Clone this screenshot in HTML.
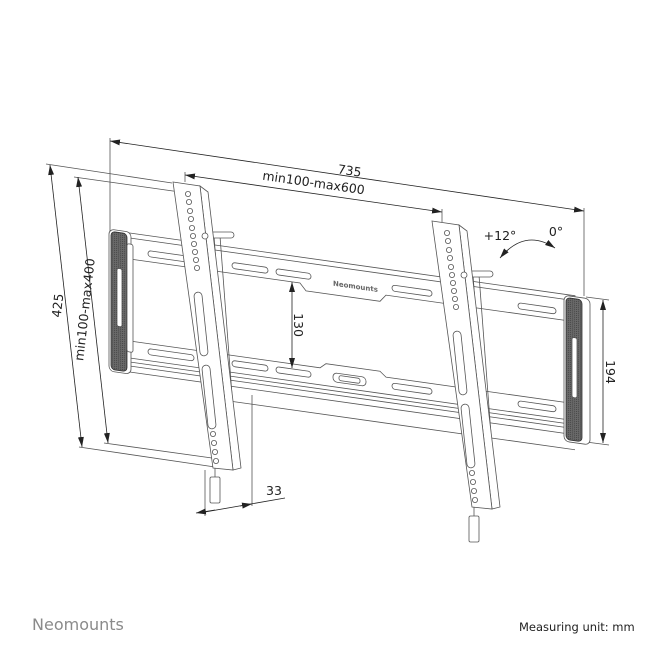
<!DOCTYPE html>
<html><head><meta charset="utf-8"><style>
html,body{margin:0;padding:0;background:#fff}
svg{display:block}
text{font-family:"DejaVu Sans","Liberation Sans",sans-serif;fill:#222}
</style></head><body>
<svg width="662" height="662" viewBox="0 0 662 662" xmlns="http://www.w3.org/2000/svg">
<defs>
<marker id="a" viewBox="0 0 10 6" refX="10" refY="3" markerWidth="10" markerHeight="6" orient="auto-start-reverse" markerUnits="userSpaceOnUse">
<path d="M0,0 L10,3 L0,6 z" fill="#222"/></marker>
<pattern id="dk" width="2" height="2" patternUnits="userSpaceOnUse"><rect width="2" height="2" fill="#6a6a6a"/><rect width="1" height="1" fill="#444"/></pattern>
</defs>
<rect width="662" height="662" fill="#fff"/>
<g stroke="#555" stroke-width="0.8" fill="none">
<line x1="110" y1="138" x2="110" y2="232"/>
<line x1="584" y1="208" x2="584" y2="296"/>
<line x1="185" y1="172" x2="185" y2="182"/>
<line x1="442" y1="209" x2="442" y2="222"/>
<line x1="46" y1="164" x2="172" y2="183"/>
<line x1="79" y1="447" x2="215" y2="467"/>
<line x1="74" y1="177" x2="180" y2="192"/>
<line x1="104" y1="443" x2="212" y2="458"/>
<line x1="586" y1="297" x2="609" y2="300"/>
<line x1="586" y1="442" x2="609" y2="445"/>
<line x1="205" y1="470" x2="205" y2="516"/>
<line x1="252" y1="395" x2="252" y2="506"/>
</g>
<g transform="matrix(1 0.141 0 1 0 -18.3)" stroke="#555" stroke-width="0.8" fill="#fff">
<path d="M122,233 L575,233 L575,372 L122,372 Z"/>
<line x1="128" y1="238" x2="575" y2="238"/>
<path d="M128,259 L300,259 L306,266 L380,266 L386,259 L575,259" fill="none"/>
<path d="M128,341 L320,341 L326,336 L380,336 L386,341 L575,341" fill="none"/>
<line x1="128" y1="358" x2="575" y2="358"/>
<line x1="128" y1="362" x2="575" y2="362"/>
<line x1="128" y1="366" x2="575" y2="366"/>
<line x1="230" y1="387" x2="575" y2="387"/>
<g fill="none">
<rect x="148" y="248" width="46" height="6" rx="3"/>
<rect x="232" y="248" width="36" height="6" rx="3"/>
<rect x="276" y="248" width="35" height="6" rx="3"/>
<rect x="392" y="248" width="40" height="6" rx="3"/>
<rect x="518" y="248" width="38" height="6" rx="3"/>
<rect x="148" y="346" width="46" height="6" rx="3"/>
<rect x="232" y="346" width="36" height="6" rx="3"/>
<rect x="276" y="346" width="35" height="6" rx="3"/>
<rect x="392" y="346" width="40" height="6" rx="3"/>
<rect x="518" y="346" width="38" height="6" rx="3"/>
<rect x="333" y="344" width="33" height="9" rx="4"/>
<rect x="339" y="346" width="21" height="5" rx="2"/>
</g>
<text x="333" y="257" font-size="7" font-weight="bold" style="fill:#666" stroke="none">Neomounts</text>
<rect x="109" y="232" width="22" height="142" rx="5"/>
<rect x="111" y="234" width="16" height="138" rx="4" fill="url(#dk)" stroke="#333"/>
<rect x="117" y="270" width="5" height="58" rx="2" fill="#fff"/>
<rect x="127" y="244" width="6" height="108" rx="2" fill="#fff"/>
<rect x="564" y="234" width="26" height="146" rx="5"/>
<rect x="566" y="236" width="16" height="142" rx="4" fill="url(#dk)" stroke="#333"/>
<rect x="572" y="275" width="5" height="60" rx="2" fill="#fff"/>
</g>
<g id="br" stroke="#555" stroke-width="0.8" fill="#fff">
<line x1="214" y1="236" x2="226" y2="395"/>
<line x1="220" y1="236" x2="232" y2="395"/>
<rect x="208" y="232" width="26" height="6" rx="3"/>
<polygon points="200,186 208,192 241,468 233,470"/>
<polygon points="173,182 200,186 233,470 213,468"/>
<rect x="197" y="292" width="8" height="64" rx="4" transform="rotate(-6 201 324)"/>
<rect x="205" y="365" width="8" height="64" rx="4" transform="rotate(-6 209 397)"/>
<g fill="none">
<circle cx="188" cy="194" r="2.6"/><circle cx="189" cy="202" r="2.6"/><circle cx="190" cy="211" r="2.6"/><circle cx="191" cy="219" r="2.6"/><circle cx="192" cy="228" r="2.6"/><circle cx="193" cy="236" r="2.6"/><circle cx="194" cy="244" r="2.6"/><circle cx="195" cy="252" r="2.6"/><circle cx="196" cy="260" r="2.6"/><circle cx="197" cy="268" r="2.6"/>
<circle cx="213" cy="434" r="2.6"/><circle cx="214" cy="443" r="2.6"/><circle cx="215" cy="452" r="2.6"/><circle cx="216" cy="461" r="2.6"/>
</g>
<line x1="215" y1="468" x2="215" y2="477"/>
<rect x="210" y="477" width="10" height="26" rx="1.5"/>
<circle cx="205" cy="236" r="3"/>
</g>
<use href="#br" transform="translate(259 39)"/>
<g stroke="#222" stroke-width="0.8" fill="none">
<line x1="110" y1="141" x2="584" y2="211" marker-start="url(#a)" marker-end="url(#a)"/>
<line x1="185" y1="175" x2="442" y2="212" marker-start="url(#a)" marker-end="url(#a)"/>
<line x1="50" y1="165" x2="82" y2="447" marker-start="url(#a)" marker-end="url(#a)"/>
<line x1="78" y1="177" x2="108" y2="443" marker-start="url(#a)" marker-end="url(#a)"/>
<line x1="292" y1="282" x2="292" y2="368" marker-start="url(#a)" marker-end="url(#a)"/>
<line x1="603" y1="300" x2="603" y2="443" marker-start="url(#a)" marker-end="url(#a)"/>
<line x1="205" y1="512" x2="285" y2="498"/>
<line x1="215" y1="510" x2="196" y2="513" marker-end="url(#a)"/>
<line x1="240" y1="506" x2="252" y2="504" marker-end="url(#a)"/>
<path d="M500,258 Q525,228 555,248" marker-start="url(#a)" marker-end="url(#a)"/>
</g>
<text x="349" y="175" font-size="12.5" text-anchor="middle" transform="rotate(8.4 349 175)">735</text>
<text x="313" y="187" font-size="12.5" text-anchor="middle" transform="rotate(8.2 313 187)">min100-max600</text>
<text x="62" y="306" font-size="12.5" text-anchor="middle" transform="rotate(-83.5 62 306)">425</text>
<text x="89" y="310" font-size="12.5" text-anchor="middle" transform="rotate(-83.5 89 310)">min100-max400</text>
<text x="294" y="325" font-size="12.5" text-anchor="middle" transform="rotate(90 294 325)">130</text>
<text x="606" y="372" font-size="12.5" text-anchor="middle" transform="rotate(90 606 372)">194</text>
<text x="274" y="495" font-size="12.5" text-anchor="middle">33</text>
<text x="500" y="240" font-size="12.5" text-anchor="middle">+12°</text>
<text x="556" y="236" font-size="12.5" text-anchor="middle">0°</text>
<text x="32" y="630" font-size="16" style="fill:#8a8a8a">Neomounts</text>
<text x="519" y="631" font-size="11.5">Measuring unit: mm</text>
</svg>
</body></html>
